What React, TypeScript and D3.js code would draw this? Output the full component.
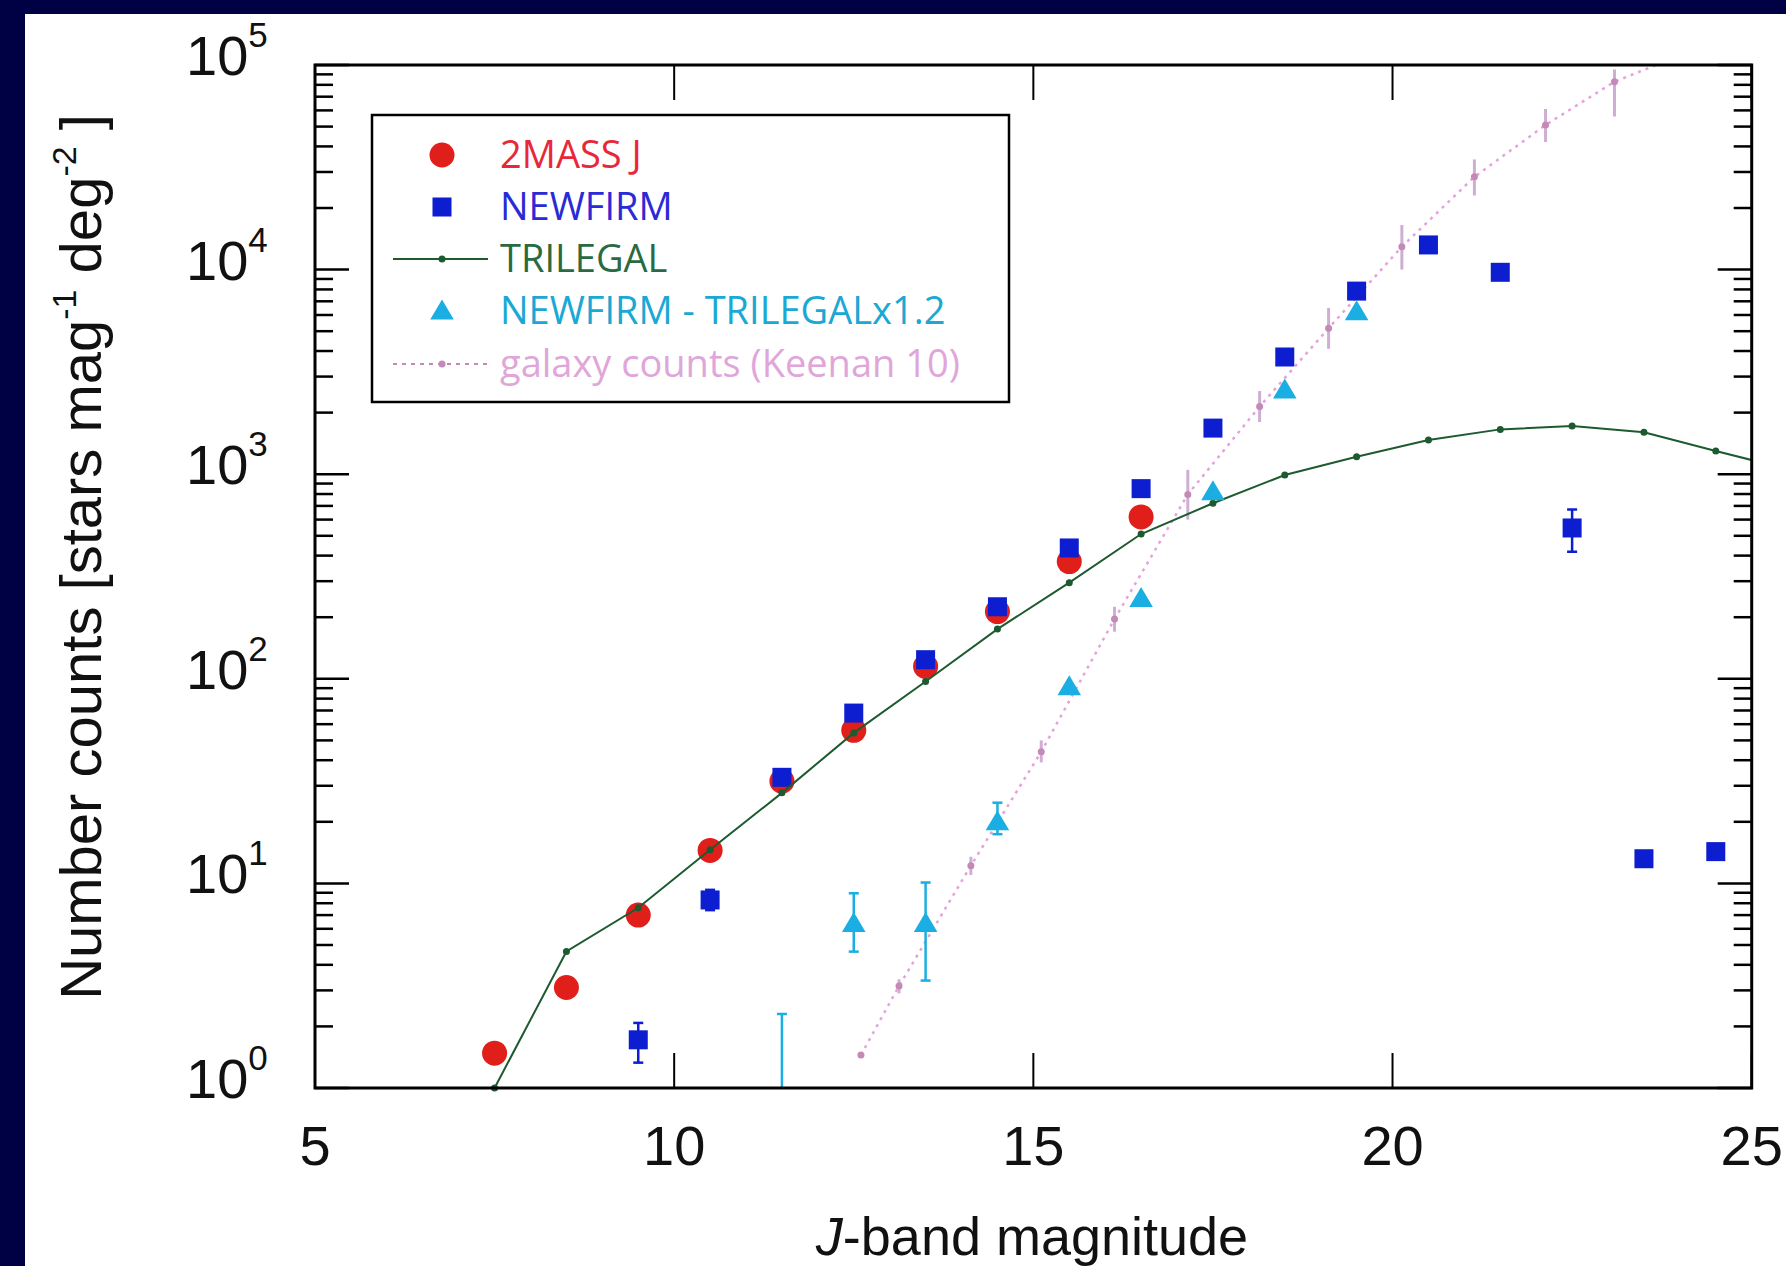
import React from "react";
import * as d3 from "d3";

// ---- data ----
const twomassMag = [7.5, 8.5, 9.5, 10.5, 11.5, 12.5, 13.5, 14.5, 15.5, 16.5];
const twomassVal = [1.48, 3.1, 7.0, 14.5, 31.6, 56, 115, 213, 374, 618];

const newfirmMag = [9.5, 10.5, 11.5, 12.5, 13.5, 14.5, 15.5, 16.5, 17.5, 18.5, 19.5, 20.5, 21.5, 22.5, 23.5, 24.5];
const newfirmVal = [1.72, 8.3, 33, 68, 124, 225, 436, 850, 1680, 3740, 7850, 13200, 9700, 546, 13.2, 14.3];
const newfirmLo: (number | null)[] = [1.33, 7.4, null, null, null, null, null, null, null, null, null, null, null, 418, null, null];
const newfirmHi: (number | null)[] = [2.08, 9.3, null, null, null, null, null, null, null, null, null, null, null, 673, null, null];

const trilegalMag = [7.5, 8.5, 9.5, 10.5, 11.5, 12.5, 13.5, 14.5, 15.5, 16.5, 17.5, 18.5, 19.5, 20.5, 21.5, 22.5, 23.5, 24.5, 25.5];
const trilegalVal = [1.0, 4.65, 7.6, 14.6, 27.7, 54.4, 97, 175, 295, 510, 721, 991, 1218, 1469, 1656, 1721, 1602, 1298, 1060];

const residMag = [11.5, 12.5, 13.5, 14.5, 15.5, 16.5, 17.5, 18.5, 19.5];
const residVal = [0.6, 6.38, 6.38, 20, 91.5, 247, 821, 2580, 6230];
const residLo: (number | null)[] = [0.3, 4.64, 3.35, 17.4, null, null, null, null, null];
const residHi: (number | null)[] = [2.3, 8.95, 10.1, 24.8, null, null, null, null, null];

const galaxyMag = [12.6, 13.13, 14.13, 15.11, 16.13, 17.15, 18.15, 19.11, 20.13, 21.14, 22.13, 23.09, 24.1];
const galaxyVal = [1.45, 3.15, 12.2, 44, 196, 796, 2140, 5165, 12940, 28400, 50900, 82800, 115000];
const galaxyLo: (number | null)[] = [null, 2.9, 11, 39, 170, 600, 1800, 4100, 10000, 23000, 42000, 56000, null];
const galaxyHi: (number | null)[] = [null, 3.4, 13.5, 50, 225, 1050, 2550, 6500, 16500, 34500, 61000, 95000, null];

const xTicks = [5, 10, 15, 20, 25];
const yDecades = [0, 1, 2, 3, 4, 5];

const legendLabels = ["2MASS J", "NEWFIRM", "TRILEGAL", "NEWFIRM - TRILEGALx1.2", "galaxy counts (Keenan 10)"];

// ---- layout ----
const W = 1786, H = 1266;
const PL = 315, PR = 1751.7, PT = 65, PB = 1088;

const C = {
  navy: "#000044",
  red: "#e01e1a",
  blue: "#0c1ed0",
  green: "#1e5a30",
  cyan: "#1aaee2",
  pink: "#e6a2dc",
  pinkDot: "#c489b6",
  pinkErr: "#cfaed4",
};

const FONT = "'Liberation Sans', Arial, Helvetica, sans-serif";
const LFONT = "'Open Sans', 'Noto Sans', sans-serif";

export default function App() {
  const x = d3.scaleLinear().domain([5, 25]).range([PL, PR]);
  const y = d3.scaleLog().domain([1, 1e5]).range([PB, PT]);

  const line = d3.line<[number, number]>().x((d) => x(d[0])).y((d) => y(d[1]));
  const triPath = line(trilegalMag.map((m, i) => [m, trilegalVal[i]] as [number, number]))!;
  const galPath = line(galaxyMag.map((m, i) => [m, galaxyVal[i]] as [number, number]))!;

  const minor: number[] = [];
  for (let e = 0; e < 5; e++) for (let k = 2; k <= 9; k++) minor.push(k * Math.pow(10, e));

  const tri = (cx: number, cy: number, s: number) =>
    `M${cx},${cy - s * 0.6}L${cx + s * 0.62},${cy + s * 0.45}L${cx - s * 0.62},${cy + s * 0.45}Z`;

  const legendY = [155, 207, 259, 311, 364];
  const legendColors = ["#e8283a", "#2a2ad6", "#2a6a40", "#1aa8d4", "#e0a6da"];

  return (
    <svg width={W} height={H} style={{ position: "absolute", left: 0, top: 0 }} xmlns="http://www.w3.org/2000/svg">
      <rect x={0} y={0} width={W} height={H} fill={C.navy} />
      <rect x={25} y={14} width={W - 25} height={H - 14} fill="#ffffff" />
      <defs>
        <clipPath id="plotclip">
          <rect x={PL} y={PT} width={PR - PL} height={PB - PT + 5} />
        </clipPath>
      </defs>

      {/* data */}
      <g clipPath="url(#plotclip)">
        {/* galaxy counts */}
        <path d={galPath} fill="none" stroke={C.pink} strokeWidth={2.5} strokeDasharray="3,5" />
        {galaxyMag.map((m, i) =>
          galaxyLo[i] != null ? (
            <line key={"ge" + i} x1={x(m)} x2={x(m)} y1={y(galaxyLo[i] as number)} y2={y(galaxyHi[i] as number)} stroke={C.pinkErr} strokeWidth={3} />
          ) : null
        )}
        {galaxyMag.map((m, i) => (
          <circle key={"gp" + i} cx={x(m)} cy={y(galaxyVal[i])} r={3.5} fill={C.pinkDot} />
        ))}

        {/* 2MASS */}
        {twomassMag.map((m, i) => (
          <circle key={"r" + i} cx={x(m)} cy={y(twomassVal[i])} r={12.5} fill={C.red} />
        ))}

        {/* NEWFIRM */}
        {newfirmMag.map((m, i) =>
          newfirmLo[i] != null ? (
            <g key={"be" + i} stroke={C.blue} strokeWidth={2.5}>
              <line x1={x(m)} x2={x(m)} y1={y(newfirmLo[i] as number)} y2={y(newfirmHi[i] as number)} />
              <line x1={x(m) - 5} x2={x(m) + 5} y1={y(newfirmLo[i] as number)} y2={y(newfirmLo[i] as number)} />
              <line x1={x(m) - 5} x2={x(m) + 5} y1={y(newfirmHi[i] as number)} y2={y(newfirmHi[i] as number)} />
            </g>
          ) : null
        )}
        {newfirmMag.map((m, i) => (
          <rect key={"b" + i} x={x(m) - 9.5} y={y(newfirmVal[i]) - 9.5} width={19} height={19} fill={C.blue} />
        ))}

        {/* TRILEGAL */}
        <path d={triPath} fill="none" stroke={C.green} strokeWidth={2} />
        {trilegalMag.map((m, i) => (
          <circle key={"t" + i} cx={x(m)} cy={y(trilegalVal[i])} r={3.5} fill={C.green} />
        ))}

        {/* NEWFIRM - TRILEGAL x1.2 */}
        {residMag.map((m, i) =>
          residLo[i] != null ? (
            <g key={"ce" + i} stroke={C.cyan} strokeWidth={2.5}>
              <line x1={x(m)} x2={x(m)} y1={Math.min(y(residLo[i] as number), PB)} y2={y(residHi[i] as number)} />
              <line x1={x(m) - 5} x2={x(m) + 5} y1={y(residLo[i] as number)} y2={y(residLo[i] as number)} />
              <line x1={x(m) - 5} x2={x(m) + 5} y1={y(residHi[i] as number)} y2={y(residHi[i] as number)} />
            </g>
          ) : null
        )}
        {residMag.map((m, i) =>
          residVal[i] >= 1 ? <path key={"c" + i} d={tri(x(m), y(residVal[i]), 19)} fill={C.cyan} /> : null
        )}
      </g>

      {/* axes frame */}
      <rect x={PL} y={PT} width={PR - PL} height={PB - PT} fill="none" stroke="#000" strokeWidth={3} />
      {xTicks.map((t) => (
        <g key={"xt" + t} stroke="#000" strokeWidth={2}>
          <line x1={x(t)} x2={x(t)} y1={PB} y2={PB - 35} />
          <line x1={x(t)} x2={x(t)} y1={PT} y2={PT + 35} />
        </g>
      ))}
      {yDecades.map((e) => (
        <g key={"yt" + e} stroke="#000" strokeWidth={2.5}>
          <line x1={PL} x2={PL + 34} y1={y(Math.pow(10, e))} y2={y(Math.pow(10, e))} />
          <line x1={PR} x2={PR - 34} y1={y(Math.pow(10, e))} y2={y(Math.pow(10, e))} />
        </g>
      ))}
      {minor.map((v, i) => (
        <g key={"ym" + i} stroke="#000" strokeWidth={2.5}>
          <line x1={PL} x2={PL + 18} y1={y(v)} y2={y(v)} />
          <line x1={PR} x2={PR - 18} y1={y(v)} y2={y(v)} />
        </g>
      ))}

      {/* tick labels */}
      {xTicks.map((t) => (
        <text key={"xl" + t} x={x(t)} y={1165} textAnchor="middle" fontFamily={FONT} fontSize={56} fill="#111">
          {t}
        </text>
      ))}
      {yDecades.map((e) => (
        <text key={"yl" + e} x={186} y={y(Math.pow(10, e)) + 10} fontFamily={FONT} fontSize={56} fill="#111">
          10
          <tspan dy={-28} fontSize={35}>{e}</tspan>
        </text>
      ))}

      {/* axis titles */}
      <text x={1032} y={1255} textAnchor="middle" fontFamily={FONT} fontSize={54} fill="#111">
        <tspan fontStyle="italic">J</tspan>-band magnitude
      </text>
      <text transform="translate(101,557) rotate(-90)" textAnchor="middle" fontFamily={FONT} fontSize={58} fill="#111">
        Number counts [stars mag
        <tspan dy={-25} fontSize={34}>-1</tspan>
        <tspan dy={25}> deg</tspan>
        <tspan dy={-25} fontSize={34}>-2</tspan>
        <tspan dy={25}> ]</tspan>
      </text>

      {/* legend */}
      <rect x={372} y={115} width={637} height={287} fill="#fff" stroke="#000" strokeWidth={2.5} />
      <circle cx={442} cy={legendY[0]} r={12.5} fill={C.red} />
      <rect x={442 - 9.5} y={legendY[1] - 9.5} width={19} height={19} fill={C.blue} />
      <line x1={393} x2={488} y1={legendY[2]} y2={legendY[2]} stroke={C.green} strokeWidth={2} />
      <circle cx={442} cy={legendY[2]} r={3.5} fill={C.green} />
      <path d={tri(442, legendY[3], 19)} fill={C.cyan} />
      <line x1={393} x2={488} y1={legendY[4]} y2={legendY[4]} stroke={C.pinkDot} strokeWidth={2} strokeDasharray="4,5" />
      <circle cx={442} cy={legendY[4]} r={3.5} fill={C.pinkDot} />
      {legendLabels.map((l, i) => (
        <text key={"lg" + i} x={500} y={legendY[i] + 13} fontFamily={LFONT} fontSize={38} fill={legendColors[i]}>
          {l}
        </text>
      ))}
    </svg>
  );
}
